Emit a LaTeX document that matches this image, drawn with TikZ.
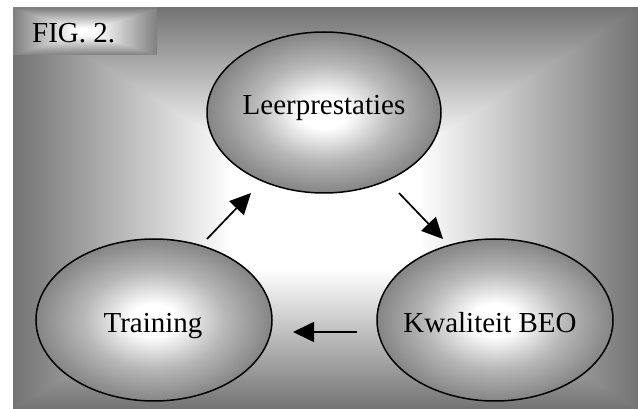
\documentclass[tikz,border=0pt]{standalone}
\usepackage{fontspec}
\setmainfont{Liberation Serif}
\usetikzlibrary{arrows.meta,shapes.geometric}
\definecolor{ellgray}{gray}{0.72}
\definecolor{ellgrayb}{gray}{0.52}
\pgfdeclarefunctionalshading{bgrect}{\pgfpoint{-50bp}{-50bp}}{\pgfpoint{50bp}{50bp}}{}{
  abs exch abs 2 copy lt {exch} if pop
  25 div 0.3 sub 0.7 div dup 0 lt {pop 0} if dup 1 gt {pop 1} if
  0.55 mul neg 1 add dup dup
}
\pgfdeclarefunctionalshading{figrect}{\pgfpoint{-50bp}{-50bp}}{\pgfpoint{50bp}{50bp}}{}{
  abs exch abs 2 copy lt {exch} if pop
  25 div 0.15 sub 0.85 div dup 0 lt {pop 0} if dup 1 gt {pop 1} if
  0.5 mul neg 1 add dup dup
}
\pgfdeclareradialshading{ellshade}{\pgfpointorigin}{color(0bp)=(white); color(5bp)=(white); color(15bp)=(ellgray); color(25bp)=(ellgrayb); color(50bp)=(ellgrayb)}
\tikzset{
  ell/.style={ellipse, draw=black, line width=1.5pt, inner sep=0pt, shading=ellshade},
  lbl/.style={font=\fontsize{29}{34}\selectfont, inner sep=0pt, text=black},
  arr/.style={line width=1.7pt, -{Triangle[length=21pt,width=20pt]}}
}
\begin{document}
\begin{tikzpicture}[x=1pt,y=-1pt]
\useasboundingbox (0,0) rectangle (638,409);
\path[shading=bgrect] (13,8) rectangle (638,409);
\path[shading=figrect] (13,8) rectangle (157,55);
\node[lbl, anchor=base west] (fig) at (32,43) {FIG. 2.};
\node[ell, minimum width=234pt, minimum height=161pt] (L) at (324,112.5) {};
\node[ell, minimum width=236pt, minimum height=162pt] (T) at (154,320) {};
\node[ell, minimum width=236pt, minimum height=162pt] (K) at (495,320) {};
\node[lbl, anchor=base] (Lt) at (324,115) {Leerprestaties};
\node[lbl, anchor=base] (Tt) at (153,332) {Training};
\node[lbl, anchor=base] (Kt) at (490,332) {Kwaliteit BEO};
\coordinate (a1s) at (207,239);
\coordinate (a1e) at (251,193);
\coordinate (a2s) at (399,193);
\coordinate (a2e) at (443,239);
\coordinate (a3s) at (357,332);
\coordinate (a3e) at (293,332);
\draw[arr] (a1s) -- (a1e);
\draw[arr] (a2s) -- (a2e);
\draw[arr] (a3s) -- (a3e);
\end{tikzpicture}
\end{document}
